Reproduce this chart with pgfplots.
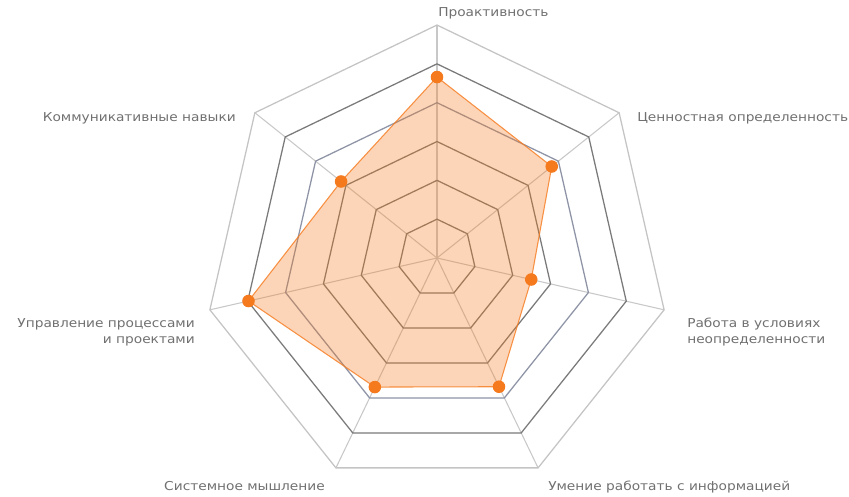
\documentclass[border=0pt]{standalone}
\usepackage{pgfplots}
\pgfplotsset{compat=1.18}
\usepackage{fontspec}
\setmainfont{DejaVu Sans}[FakeStretch=1.12]
\definecolor{lbl}{HTML}{707070}
\definecolor{ringA}{HTML}{7A7A7A}
\definecolor{ringB}{HTML}{8E94A6}
\definecolor{ringOut}{HTML}{C4C4C4}
\definecolor{spoke}{HTML}{C8C8C8}
\definecolor{orng}{HTML}{F57A1E}
\begin{document}
\begin{tikzpicture}
\begin{axis}[
  hide axis, clip=false,
  x=29.12pt, y=29.12pt,
  xmin=-6, xmax=6, ymin=-6, ymax=6,
  every axis plot/.append style={data cs=polar},
]
% spokes
\addplot[spoke, line width=0.8pt] coordinates {(90,0) (90,6)};
\addplot[spoke, line width=0.8pt] coordinates {(38.5714,0) (38.5714,6)};
\addplot[spoke, line width=0.8pt] coordinates {(-12.8571,0) (-12.8571,6)};
\addplot[spoke, line width=0.8pt] coordinates {(-64.2857,0) (-64.2857,6)};
\addplot[spoke, line width=0.8pt] coordinates {(-115.7143,0) (-115.7143,6)};
\addplot[spoke, line width=0.8pt] coordinates {(-167.1429,0) (-167.1429,6)};
\addplot[spoke, line width=0.8pt] coordinates {(141.4286,0) (141.4286,6)};
% rings
\pgfplotsinvokeforeach{1,2,3}{
\addplot[ringA, line width=0.95pt] coordinates {(90,#1) (38.5714,#1) (-12.8571,#1) (-64.2857,#1) (-115.7143,#1) (-167.1429,#1) (141.4286,#1)} -- cycle;
}
\addplot[ringB, line width=0.95pt] coordinates {(90,4) (38.5714,4) (-12.8571,4) (-64.2857,4) (-115.7143,4) (-167.1429,4) (141.4286,4)} -- cycle;
\addplot[ringA, line width=0.95pt] coordinates {(90,5) (38.5714,5) (-12.8571,5) (-64.2857,5) (-115.7143,5) (-167.1429,5) (141.4286,5)} -- cycle;
\addplot[ringOut, line width=0.95pt] coordinates {(90,6) (38.5714,6) (-12.8571,6) (-64.2857,6) (-115.7143,6) (-167.1429,6) (141.4286,6)} -- cycle;
% data
\addplot[orng, line width=0.8pt, fill=orng, fill opacity=0.32, draw opacity=0.8,
  mark=*, mark size=4.3pt, mark options={fill=orng, draw=orng, fill opacity=1, draw opacity=1}]
  coordinates {(90,4.66) (38.5714,3.78) (-12.8571,2.49) (-64.2857,3.68) (-115.7143,3.69) (-167.1429,4.98) (141.4286,3.16)} -- cycle;
% labels
\begin{scope}[every node/.style={text=lbl, font=\fontsize{9.2}{12}\selectfont, inner sep=0pt}]
\node[anchor=base west] at ([shift={(0.75pt,180.75pt)}]axis cs:0,0) {Проактивность};
\node[anchor=base west] at ([shift={(150pt,102pt)}]axis cs:0,0) {Ценностная определенность};
\node[anchor=north west, align=left] at ([shift={(187.5pt,-45pt)}]axis cs:0,0) {Работа в условиях\\неопределенности};
\node[anchor=north west] at ([shift={(83.25pt,-167.25pt)}]axis cs:0,0) {Умение работать с информацией};
\node[anchor=north east] at ([shift={(-84pt,-167.25pt)}]axis cs:0,0) {Системное мышление};
\node[anchor=north east, align=right] at ([shift={(-181.5pt,-45pt)}]axis cs:0,0) {Управление процессами\\и проектами};
\node[anchor=base east] at ([shift={(-150.75pt,102pt)}]axis cs:0,0) {Коммуникативные навыки};
\end{scope}
\coordinate (c) at (axis cs:0,0);
\end{axis}
\pgfresetboundingbox
\path[use as bounding box] (c) ++(-327.75pt,193.5pt) rectangle ++(636.75pt,-372pt);
\end{tikzpicture}
\end{document}
